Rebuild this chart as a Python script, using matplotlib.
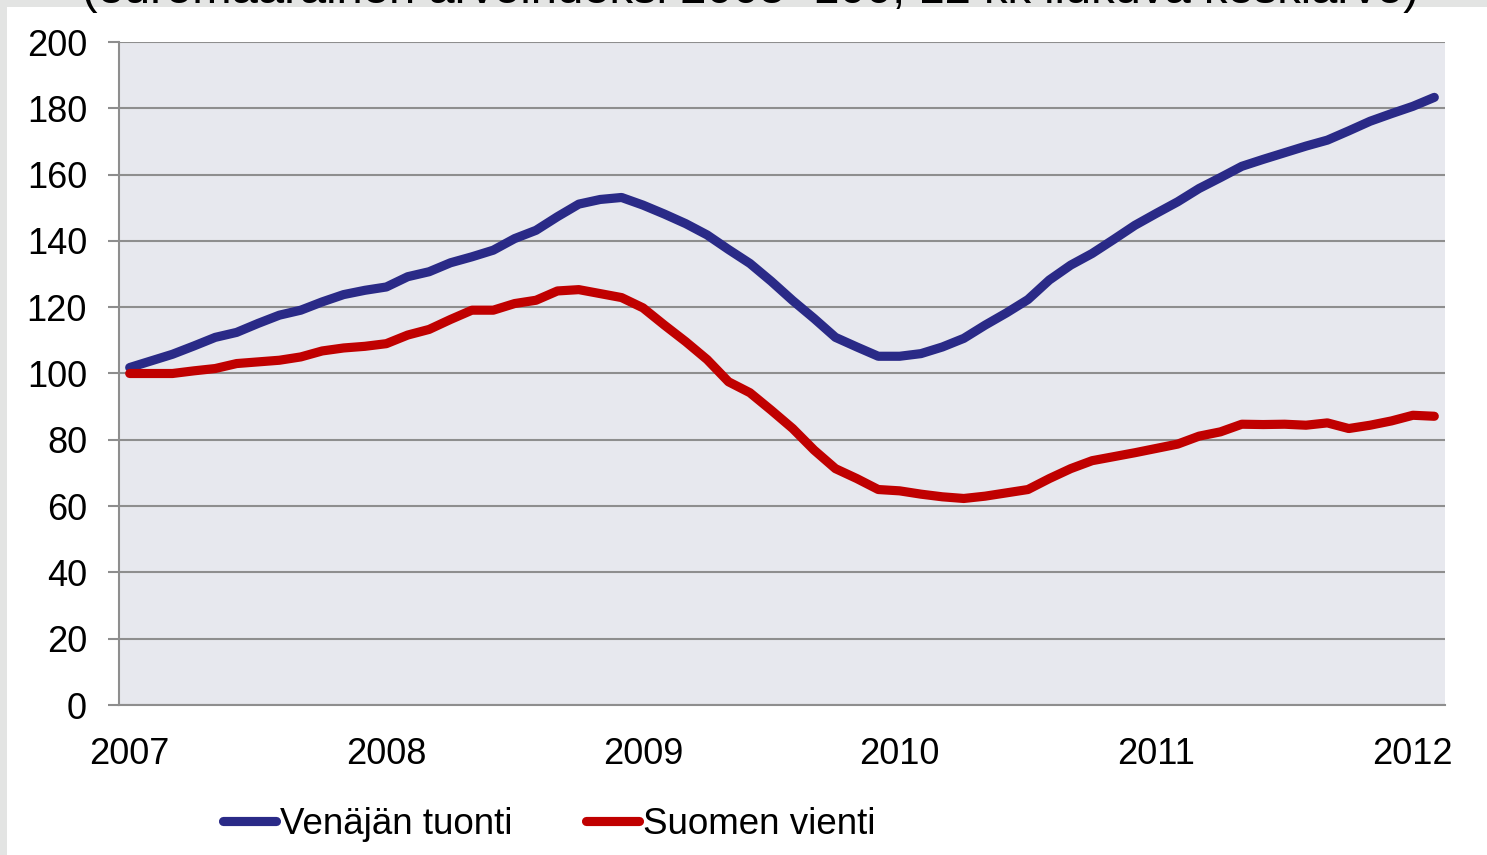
import numpy as np
import matplotlib.pyplot as plt
from matplotlib.patches import Rectangle

plt.rcParams['font.family'] = ['Liberation Sans', 'DejaVu Sans']

# kuukausittaiset arvot tammikuu 2007 - helmikuu 2012
venaja = [101.8, 103.8, 105.8, 108.3, 110.9, 112.4, 115.1, 117.6, 119.1, 121.6,
          123.8, 125.1, 126.1, 129.2, 130.7, 133.4, 135.2, 137.2, 140.7, 143.2,
          147.3, 151.1, 152.5, 153.1, 150.8, 148.1, 145.2, 141.8, 137.4, 133.2,
          127.8, 122.0, 116.6, 110.9, 108.0, 105.2, 105.2, 106.0, 108.0, 110.6,
          114.6, 118.3, 122.3, 128.2, 132.7, 136.2, 140.4, 144.7, 148.3, 151.8,
          155.8, 159.1, 162.5, 164.6, 166.6, 168.6, 170.4, 173.2, 176.1, 178.4,
          180.6, 183.3]
suomi = [100.0, 100.0, 100.0, 100.8, 101.5, 103.0, 103.5, 104.0, 105.0, 106.8,
         107.7, 108.2, 109.0, 111.6, 113.3, 116.3, 119.1, 119.1, 121.1, 122.1,
         124.9, 125.3, 124.1, 122.9, 119.8, 114.6, 109.6, 104.2, 97.5, 94.2,
         88.9, 83.4, 76.9, 71.3, 68.3, 65.0, 64.6, 63.6, 62.8, 62.3,
         63.0, 64.0, 65.0, 68.3, 71.3, 73.7, 74.9, 76.1, 77.4, 78.7,
         81.1, 82.4, 84.7, 84.6, 84.7, 84.4, 85.1, 83.4, 84.4, 85.7,
         87.4, 87.1]
vuodet = ['2007', '2008', '2009', '2010', '2011', '2012']
otsikko = '(euromääräinen arvoindeksi 2005=100, 12 kk liukuva keskiarvo)'

W, H = 1487, 855
fig = plt.figure(figsize=(W/100, H/100), dpi=100)
fig.patch.set_facecolor('#E3E4E3')
fig.patches.append(Rectangle((7/W, 0), 1, 1-7/H, transform=fig.transFigure,
                             facecolor='white', edgecolor='none', zorder=-5))
# otsikko jää kuvan yläreunan yli kuten alkuperäisessä
fig.text(750/W, 1-3/H, otsikko, ha='center', va='baseline', fontsize=34, zorder=5)

ax = fig.add_axes([119/W, 1-705/H, (1445-119)/W, (705-42)/H])
ax.set_facecolor('#E7E8EE')

t = np.arange(len(venaja))
ax.plot(t, venaja, color='#2A2A87', lw=6.6, solid_capstyle='round',
        solid_joinstyle='round', label='Venäjän tuonti', zorder=3)
ax.plot(t, suomi, color='#C00000', lw=6.6, solid_capstyle='round',
        solid_joinstyle='round', label='Suomen vienti', zorder=3)

ax.set_xlim(-0.5, len(venaja)-0.5)
ax.set_ylim(0, 200)
ax.set_yticks(np.arange(0, 201, 20))
ax.set_xticks(np.arange(0, len(venaja), 12))
ax.set_xticklabels(vuodet)
ax.grid(axis='y', color='#8E8E8E', lw=1.5)
ax.set_axisbelow(True)
for s in ['top', 'right']:
    ax.spines[s].set_visible(False)
for s in ['left', 'bottom']:
    ax.spines[s].set_color('#8E8E8E')
    ax.spines[s].set_linewidth(1.5)
ax.tick_params(axis='y', length=8, width=1.5, color='#8E8E8E', pad=15, labelsize=26)
ax.tick_params(axis='x', length=0, pad=23, labelsize=26)

fig.legend(loc='center', bbox_to_anchor=(549/W, 31/H), ncol=2, frameon=False,
           fontsize=26.5, handlelength=1.45, handletextpad=0.1, columnspacing=2.0)

fig.savefig('out.png', dpi=100, facecolor=fig.get_facecolor())
